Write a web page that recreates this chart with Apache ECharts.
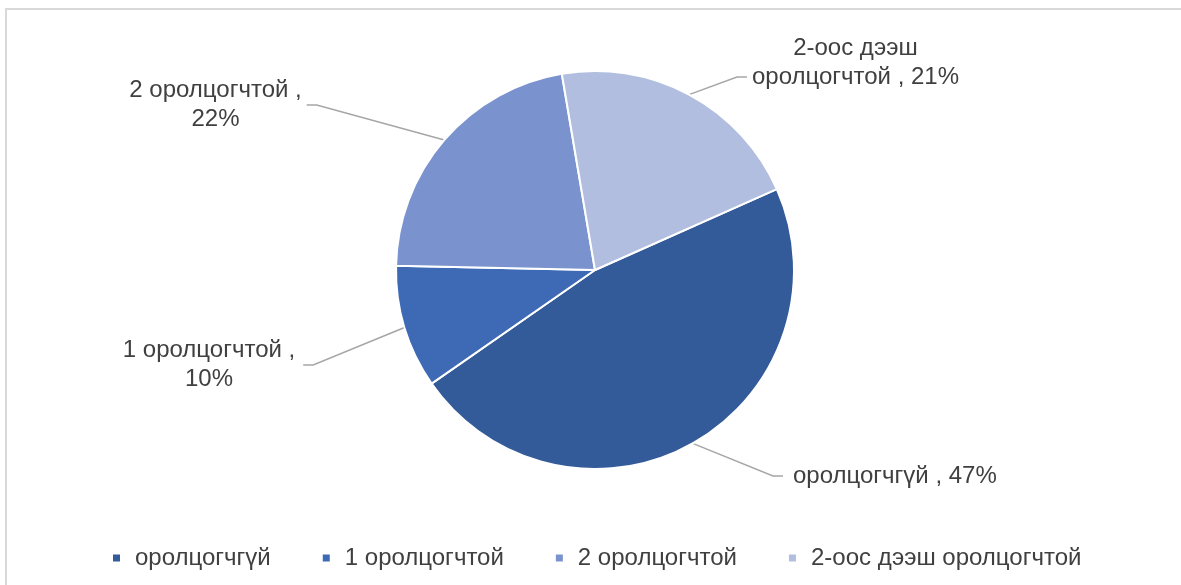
<!DOCTYPE html>
<html>
<head>
<meta charset="utf-8">
<script src="https://cdn.jsdelivr.net/npm/echarts@6/dist/echarts.min.js"></script>
<style>
html,body{margin:0;padding:0;background:#fff;}
#chart{width:1181px;height:585px;}
</style>
</head>
<body>
<div id="chart"></div>
<script>
// Data
const categories = ['оролцогчгүй', '1 оролцогчтой', '2 оролцогчтой', '2-оос дээш оролцогчтой'];
const values = [47, 10, 22, 21];
const labelTexts = ['оролцогчгүй , 47%', '1 оролцогчтой ,\n10%', '2 оролцогчтой ,\n22%', '2-оос дээш\nоролцогчтой , 21%\n'];
const colors = ['#335A99', '#3E6AB5', '#7A92CE', '#B2BEDF'];

// Label placement (layout only)
const labelPos = [
  {x: 783, y: 476, align: 'left', padding: [0, 0, 0, 10]},
  {x: 213, y: 365, align: 'center', padding: [0, 8, 0, 0]},
  {x: 218, y: 105, align: 'center', padding: [0, 5, 0, 0]},
  {x: 853, y: 77, align: 'center', padding: [0, 0, 0, 5]}
];

const chart = echarts.init(document.getElementById('chart'));
const font = '"Liberation Sans", Arial, Helvetica, sans-serif';

chart.setOption({
  animation: false,
  color: colors,
  graphic: [{
    type: 'rect',
    shape: {x: 6, y: 9, width: 1250, height: 650},
    style: {fill: 'none', stroke: '#d9d9d9', lineWidth: 2},
    silent: true
  }],
  legend: {
    data: categories,
    left: 108,
    top: 541,
    icon: 'rect',
    itemWidth: 7,
    itemHeight: 7,
    itemGap: 52,
    itemStyle: {borderWidth: 0},
    textStyle: {fontFamily: font, fontSize: 24, color: '#404040', padding: [0, 0, 0, 10]}
  },
  series: [{
    type: 'pie',
    center: [595, 270],
    radius: 199,
    startAngle: 24,
    clockwise: true,
    itemStyle: {borderColor: '#ffffff', borderWidth: 2},
    label: {
      show: true,
      position: 'outside',
      fontFamily: font,
      fontSize: 24,
      lineHeight: 29,
      color: '#404040',
      formatter: function (p) { return labelTexts[p.dataIndex]; }
    },
    labelLine: {
      show: true,
      length: 20,
      length2: 10,
      lineStyle: {color: '#a6a6a6', width: 1.5}
    },
    labelLayout: function (p) {
      const lp = labelPos[p.dataIndex];
      return {x: lp.x, y: lp.y, align: lp.align, verticalAlign: 'middle'};
    },
    data: categories.map(function (c, i) {
      return {
        name: c,
        value: values[i],
        label: {align: labelPos[i].align, padding: labelPos[i].padding}
      };
    })
  }]
});
</script>
</body>
</html>
